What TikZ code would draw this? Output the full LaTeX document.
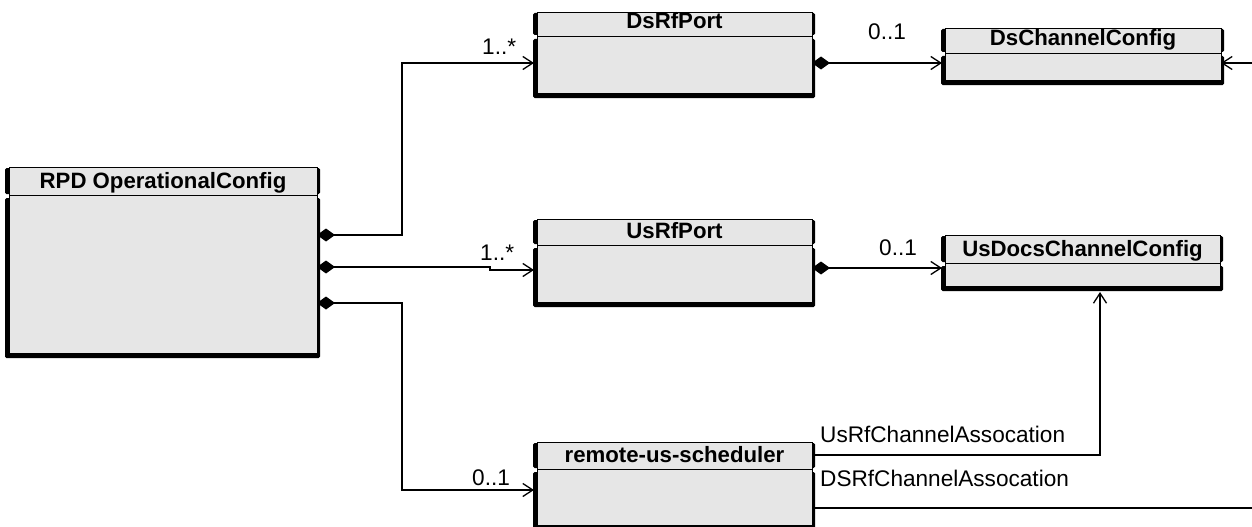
\documentclass[tikz,border=0pt]{standalone}
\usepackage{fontspec}
\setmainfont{Liberation Sans}
\usetikzlibrary{arrows.meta}
\definecolor{boxgray}{RGB}{230,230,230}
\tikzset{
  classbox/.style={draw=black, line width=0.9pt, fill=boxgray, inner sep=0pt, outer sep=0pt},
  classtitle/.style={font=\fontsize{22.2}{24}\selectfont\bfseries, inner sep=0pt},
  lab/.style={font=\fontsize{22.6}{24}\selectfont, inner sep=0pt, anchor=base west},
  conn/.style={line width=1.2pt},
  comp/.style={{Diamond[length=18pt,width=13pt]}-{Straight Barb[length=10pt,width=13pt,line width=1.3pt]}, shorten >=3pt},
  openarr/.style={-{Straight Barb[length=10pt,width=13pt,line width=1.3pt]}},
}
% name L T R H B text
\newcommand\umlclass[7]{%
  \fill[black,rounded corners=1.5pt] ({#2-2},{#3+1}) rectangle ({#4+3},{#5-1});
  \fill[black,rounded corners=1.5pt] ({#2-2},{#5+3}) rectangle ({#4+3},{#6+5});
  \node[classbox, minimum width={#4-#2-2}, minimum height={#6-#3}, anchor=north west] (#1) at ({#2+2},#3) {};
  \draw[line width=0.9pt] ({#2+2},#5) -- (#4,#5);
  \node[classtitle, anchor=base] (#1-t) at ({(#2+#4)/2+1},{#5-7}) {#7};
}
\begin{document}
\begin{tikzpicture}[x=1pt,y=-1pt]
\useasboundingbox[fill=white] (0,0) rectangle (1252,527);

\umlclass{rpd}{7}{167}{317}{195}{353}{RPD OperationalConfig}
\umlclass{dsrf}{535}{12}{812}{36}{93}{DsRfPort}
\umlclass{dsch}{943}{28}{1221}{53}{80}{DsChannelConfig}
\umlclass{usrf}{535}{219}{812}{245}{302}{UsRfPort}
\umlclass{usdocs}{943}{235}{1220}{263}{286}{UsDocsChannelConfig}
\umlclass{sched}{535}{442}{812}{469}{525}{remote-us-scheduler}

\coordinate (dsIn) at (1252,63);
\coordinate (dsOut) at (1252,508);

% connectors
\draw[conn, comp] (rpd.east |- 0,235) -- (402,235) -- (402,63) -- (dsrf.west |- 0,63);
\draw[conn, comp] (rpd.east |- 0,267) -- (490,267) -- (490,270) -- (usrf.west |- 0,270);
\draw[conn, comp] (rpd.east |- 0,303) -- (402,303) -- (402,490) -- (sched.west |- 0,490);
\draw[conn, comp] (dsrf.east |- 0,63) -- (dsch.west |- 0,63);
\draw[conn, comp] (usrf.east |- 0,268) -- (usdocs.west |- 0,268);
\draw[conn, openarr, shorten >=6pt] (sched.east |- 0,455) -- (1100,455) -- (usdocs.south -| 1100,0);
\draw[conn] (sched.east |- 0,508) -- (dsOut);
\draw[conn, openarr] (dsIn) -- (dsch.east |- 0,63);

% labels
\node[lab] (m1) at (482,55) {1..*};
\node[lab] (m2) at (868,40) {0..1};
\node[lab] (m3) at (480,260) {1..*};
\node[lab] (m4) at (879,255) {0..1};
\node[lab] (m5) at (472,485) {0..1};
\node[lab] (a1) at (820,442) {UsRfChannelAssocation};
\node[lab] (a2) at (820,486) {DSRfChannelAssocation};
\end{tikzpicture}
\end{document}
